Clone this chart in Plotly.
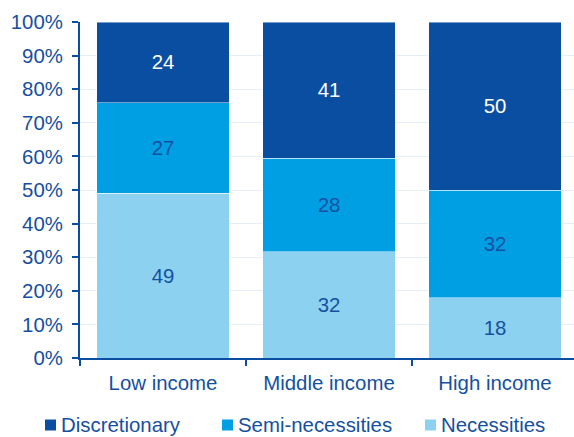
import plotly.graph_objects as go

categories = ["Low income", "Middle income", "High income"]
necessities = [49, 32, 18]
semi_necessities = [27, 28, 32]
discretionary = [24, 41, 50]
y_ticks = [0, 10, 20, 30, 40, 50, 60, 70, 80, 90, 100]
y_tick_labels = [f"{v}%" for v in y_ticks]

DARK = "#0A4EA2"
MID = "#009FE3"
LIGHT = "#8DD1F1"
TXT = "#1550A0"
FONT = "Liberation Sans, Arial, sans-serif"
FS = 20.4

W, H = 574, 437
ML, MT, MB = 80, 22, 79
PW = 494  # plot width in px
PH = H - MT - MB

fig = go.Figure()
series = [
    ("Necessities", necessities, LIGHT, TXT),
    ("Semi-necessities", semi_necessities, MID, TXT),
    ("Discretionary", discretionary, DARK, "white"),
]
for name, vals, col, tcol in series:
    fig.add_trace(go.Bar(
        name=name, x=categories, y=vals, text=vals,
        texttemplate="%{text}", textposition="inside", insidetextanchor="middle",
        textfont=dict(color=tcol, size=FS, family=FONT),
        marker=dict(color=col, line=dict(color="rgba(255,255,255,0.45)", width=1)),
        width=0.8, showlegend=False,
    ))

fig.update_layout(
    width=W, height=H,
    margin=dict(l=ML, r=0, t=MT, b=MB, pad=0),
    barmode="stack", barnorm="percent",
    plot_bgcolor="white", paper_bgcolor="white",
    font=dict(family=FONT, size=FS, color=TXT),
)
fig.update_xaxes(
    range=[-0.5, -0.5 + PW / 166.0],
    showline=True, linecolor=DARK, linewidth=2,
    ticks="outside", tickson="boundaries", ticklen=6, tickcolor=DARK, tickwidth=2,
    tickfont=dict(size=FS, color=TXT, family=FONT), ticklabelstandoff=6,
    showgrid=False, fixedrange=True,
)
fig.update_yaxes(
    range=[0, 100], tickvals=y_ticks, ticktext=y_tick_labels,
    showline=True, linecolor=DARK, linewidth=2,
    ticks="outside", ticklen=6, tickcolor=DARK, tickwidth=2,
    tickfont=dict(size=FS, color=TXT, family=FONT), ticklabelstandoff=5,
    showgrid=True, gridcolor="#E4EFFA", gridwidth=1,
    zeroline=False, fixedrange=True,
)

def px_x(p):
    return (p - ML) / PW

def px_y(p):
    return (MT + PH - p) / PH

legend_items = [("Discretionary", DARK, 45), ("Semi-necessities", MID, 222), ("Necessities", LIGHT, 425)]
cy = 425
for label, col, x0 in legend_items:
    fig.add_shape(type="rect", xref="paper", yref="paper",
                  x0=px_x(x0), x1=px_x(x0 + 11), y0=px_y(cy + 5.5), y1=px_y(cy - 5.5),
                  fillcolor=col, line=dict(width=0), layer="above")
    fig.add_annotation(text=label, xref="paper", yref="paper", x=px_x(x0 + 14), y=px_y(cy),
                       xanchor="left", yanchor="middle", showarrow=False,
                       font=dict(size=FS, color=TXT, family=FONT))

fig.write_html("out.html")
